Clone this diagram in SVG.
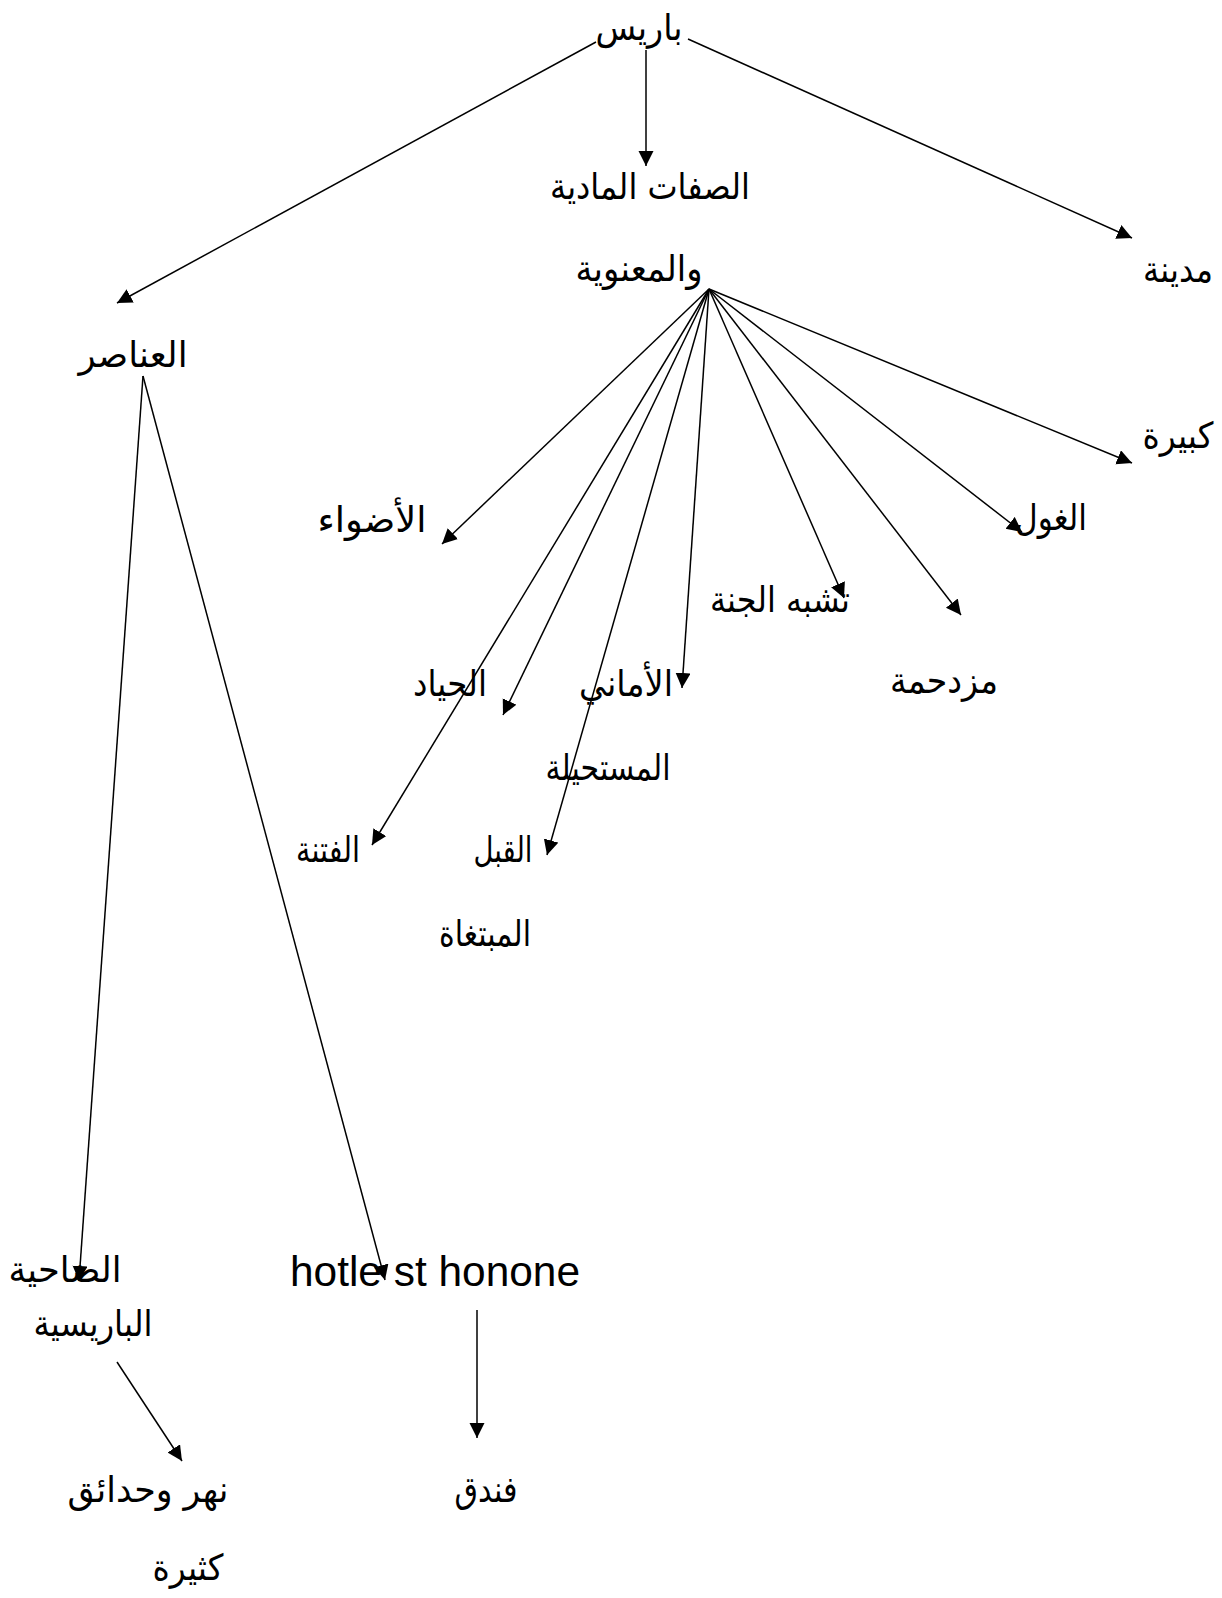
<svg xmlns="http://www.w3.org/2000/svg" width="1222" height="1598" viewBox="0 0 1222 1598">
  <defs>
    <marker id="arrow" markerUnits="userSpaceOnUse" markerWidth="17" markerHeight="17" refX="15" refY="7.5" orient="auto">
      <path d="M0,0 L15,7.5 L0,15 Z" fill="#000"/>
    </marker>
    <style>
      .ar { font-family: "DejaVu Sans", sans-serif; font-size: 36px; fill: #000; text-anchor: middle; }
      .la { font-family: "Liberation Sans", Arial, sans-serif; font-size: 42px; fill: #000; text-anchor: middle; }
      .edge { stroke: #000; stroke-width: 1.5; fill: none; marker-end: url(#arrow); }
    </style>
  </defs>
  <rect width="1222" height="1598" fill="#fff"/>

  <!-- connectors -->
  <g id="connectors">
    <!-- from the root -->
    <line class="edge" x1="596" y1="42" x2="117" y2="303"/>
    <line class="edge" x1="646" y1="50" x2="646" y2="166"/>
    <line class="edge" x1="688" y1="39" x2="1132" y2="238"/>
    <!-- fan out from the qualities node -->
    <line class="edge" x1="709" y1="289" x2="1132" y2="463"/>
    <line class="edge" x1="709" y1="289" x2="1022" y2="532"/>
    <line class="edge" x1="709" y1="289" x2="961" y2="615"/>
    <line class="edge" x1="709" y1="289" x2="844" y2="598"/>
    <line class="edge" x1="709" y1="289" x2="682" y2="688"/>
    <line class="edge" x1="709" y1="289" x2="547" y2="855"/>
    <line class="edge" x1="709" y1="289" x2="503" y2="715"/>
    <line class="edge" x1="709" y1="289" x2="372" y2="845"/>
    <line class="edge" x1="709" y1="289" x2="442" y2="544"/>
    <!-- from the elements node -->
    <line class="edge" x1="143" y1="376" x2="79" y2="1281"/>
    <line class="edge" x1="143" y1="376" x2="385" y2="1280"/>
    <line class="edge" x1="117" y1="1362" x2="182" y2="1461"/>
    <line class="edge" x1="477" y1="1310" x2="477" y2="1438"/>
  </g>

  <g id="n-paris">
    <text class="ar" x="639" y="40" textLength="87" lengthAdjust="spacingAndGlyphs">باريس</text>
  </g>
  <g id="n-sifat">
    <text class="ar" x="650" y="199" textLength="200" lengthAdjust="spacingAndGlyphs">الصفات المادية</text>
    <text class="ar" x="639" y="281" textLength="127" lengthAdjust="spacingAndGlyphs">والمعنوية</text>
  </g>
  <g id="n-madina">
    <text class="ar" x="1178" y="282" textLength="70" lengthAdjust="spacingAndGlyphs">مدينة</text>
  </g>
  <g id="n-anasir">
    <text class="ar" x="133" y="367" textLength="109" lengthAdjust="spacingAndGlyphs">العناصر</text>
  </g>
  <g id="n-kabira">
    <text class="ar" x="1178" y="448" textLength="71" lengthAdjust="spacingAndGlyphs">كبيرة</text>
  </g>
  <g id="n-ghoul">
    <text class="ar" x="1051" y="530" textLength="72" lengthAdjust="spacingAndGlyphs">الغول</text>
  </g>
  <g id="n-adwaa">
    <text class="ar" x="372" y="532" textLength="109" lengthAdjust="spacingAndGlyphs">الأضواء</text>
  </g>
  <g id="n-jannah">
    <text class="ar" x="780" y="612" textLength="140" lengthAdjust="spacingAndGlyphs">تشبه الجنة</text>
  </g>
  <g id="n-muzdahima">
    <text class="ar" x="944" y="693" textLength="108" lengthAdjust="spacingAndGlyphs">مزدحمة</text>
  </g>
  <g id="n-hiyad">
    <text class="ar" x="450" y="696" textLength="74" lengthAdjust="spacingAndGlyphs">الحياد</text>
  </g>
  <g id="n-amani">
    <text class="ar" x="626" y="696" textLength="94" lengthAdjust="spacingAndGlyphs">الأماني</text>
    <text class="ar" x="608" y="780" textLength="125" lengthAdjust="spacingAndGlyphs">المستحيلة</text>
  </g>
  <g id="n-fitna">
    <text class="ar" x="328" y="862" textLength="64" lengthAdjust="spacingAndGlyphs">الفتنة</text>
  </g>
  <g id="n-qubal">
    <text class="ar" x="503" y="862" textLength="59" lengthAdjust="spacingAndGlyphs">القبل</text>
    <text class="ar" x="485" y="946" textLength="92" lengthAdjust="spacingAndGlyphs">المبتغاة</text>
  </g>
  <g id="n-dahiya">
    <text class="ar" x="65" y="1282" textLength="113" lengthAdjust="spacingAndGlyphs">الضاحية</text>
    <text class="ar" x="93" y="1336" textLength="119" lengthAdjust="spacingAndGlyphs">الباريسية</text>
  </g>
  <g id="n-hotel">
    <text class="la" x="435" y="1286" textLength="290" lengthAdjust="spacingAndGlyphs">hotle st honone</text>
  </g>
  <g id="n-nahr">
    <text class="ar" x="148" y="1502" textLength="161" lengthAdjust="spacingAndGlyphs">نهر وحدائق</text>
    <text class="ar" x="188" y="1580" textLength="71" lengthAdjust="spacingAndGlyphs">كثيرة</text>
  </g>
  <g id="n-funduq">
    <text class="ar" x="486" y="1502" textLength="63" lengthAdjust="spacingAndGlyphs">فندق</text>
  </g>
</svg>
